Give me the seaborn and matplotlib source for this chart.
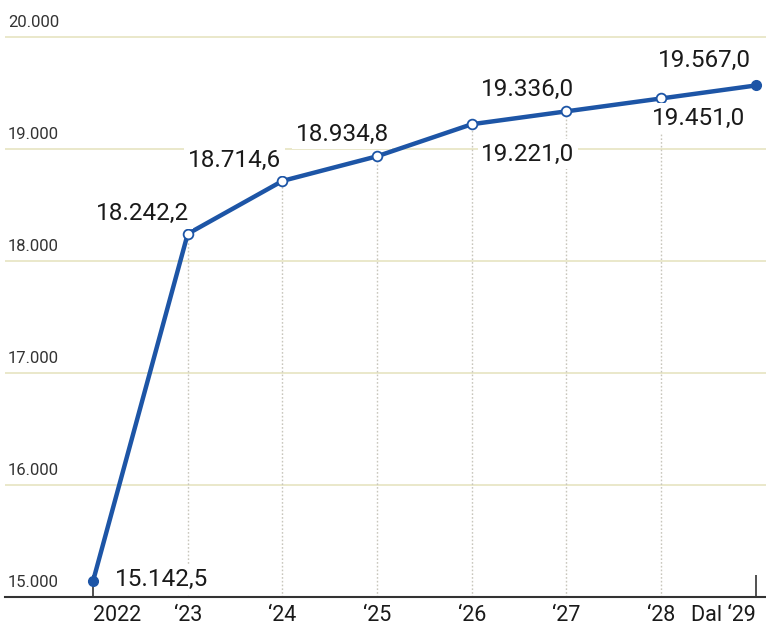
import matplotlib
matplotlib.use("Agg")
import matplotlib.pyplot as plt
import seaborn as sns
import pandas as pd

# data
years = ["2022", "\u201823", "\u201824", "\u201825", "\u201826", "\u201827", "\u201828", "Dal \u201829"]
values = [15142.5, 18242.2, 18714.6, 18934.8, 19221.0, 19336.0, 19451.0, 19567.0]
labels = ["15.142,5", "18.242,2", "18.714,6", "18.934,8", "19.221,0", "19.336,0", "19.451,0", "19.567,0"]
yticks = [16000, 17000, 18000, 19000, 20000]
ytick_labels = ["16.000", "17.000", "18.000", "19.000", "20.000"]

df = pd.DataFrame({"x": range(len(years)), "value": values})

sns.set_style("white")
plt.rcParams["font.family"] = ["Roboto", "DejaVu Sans"]

blue = "#1d55a6"
hgrid = "#e4e1bc"
vgrid = "#c8c6bc"

fig = plt.figure(figsize=(7.66, 6.28), dpi=100)
ax = fig.add_axes([5 / 766, 31 / 628, 761 / 766, 597 / 628])
ax.set_xlim(-0.93, 7.107)
ax.set_ylim(15000, 20330)

# horizontal grid
for y in yticks:
    ax.axhline(y, color=hgrid, lw=1.1, zorder=1)
# vertical drop lines
ax.vlines(df["x"][1:7], 15000, df["value"][1:7], color=vgrid, lw=1.0,
          ls=(0, (1.2, 1.5)), zorder=1)

sns.lineplot(data=df, x="x", y="value", ax=ax, color=blue, lw=3.2, zorder=3)
ax.plot(df["x"][1:7], df["value"][1:7], "o", ms=7, mfc="white", mec=blue, mew=1.3, zorder=4)
ax.plot(df["x"].iloc[[0, 7]], df["value"].iloc[[0, 7]], "o", ms=7, color=blue, zorder=4)

# data labels: (dx, dy) offsets in pixels, alignment
offsets = [(22, 2, "left"), (-45, 20, "center"), (-48, 20, "center"), (-35, 22, "center"),
           (56, -30, "center"), (-39, 22, "center"), (37, -20, "center"), (-51, 25, "center")]
for i, (lab, (dx, dy, ha)) in enumerate(zip(labels, offsets)):
    ax.annotate(lab, (i, values[i]), xytext=(dx, dy), textcoords="offset pixels",
                ha=ha, va="center", fontsize=17.5, color="#1a1a1a", zorder=5,
                bbox=dict(boxstyle="square,pad=0.15", fc="white", ec="none"))

# y labels above grid lines
for y, lab in zip([15000] + yticks, ["15.000"] + ytick_labels):
    ax.annotate(lab, (0.004, y), xycoords=("axes fraction", "data"), xytext=(0, 7),
                textcoords="offset pixels", ha="left", va="bottom", fontsize=12,
                color="#333333", zorder=5)

ax.set_yticks([])
ax.set_xticks(range(len(years)))
ax.set_xticklabels(years, fontsize=15.5, color="#1a1a1a")
tl = ax.get_xticklabels()
tl[0].set_ha("left")
tl[-1].set_ha("right")
ax.tick_params(axis="x", length=0, pad=6)
ax.set_xlabel("")
ax.set_ylabel("")
for s in ["top", "right", "left"]:
    ax.spines[s].set_visible(False)
ax.spines["bottom"].set_color("#333333")
ax.spines["bottom"].set_linewidth(1.5)
# small ticks at the ends
ax.vlines([0, 7], 15000, 15200, color="#333333", lw=1.2)

fig.savefig("out.png", dpi=100)
